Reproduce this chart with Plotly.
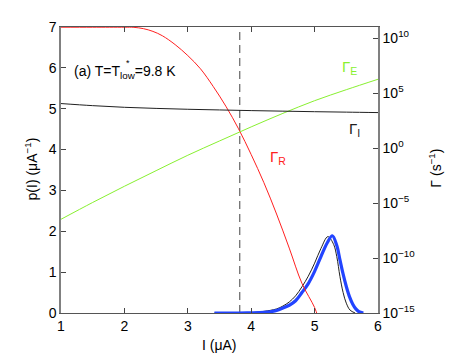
import plotly.graph_objects as go

# rates (right axis, log10 of s^-1)
I_rate = [1.0, 1.5, 2.0, 2.5, 3.0, 3.5, 4.0, 4.5, 5.0, 5.5, 6.0]
logGamma_E = [-6.48, -4.95, -3.48, -2.06, -0.66, 0.64, 1.92, 3.15, 4.3, 5.3, 6.25]
logGamma_I = [4.04, 3.85, 3.7, 3.6, 3.52, 3.46, 3.4, 3.35, 3.3, 3.26, 3.22]

I_R = [1.0, 1.5, 2.0, 2.15, 2.3, 2.45, 2.6, 2.8, 3.0, 3.2, 3.4, 3.6, 3.8, 4.0, 4.2, 4.4, 4.6, 4.8, 5.0, 5.05]
logGamma_R = [10.98, 10.98, 10.98, 10.97, 10.85, 10.6, 10.2, 9.4, 8.4, 7.2, 5.6, 3.8, 1.75, -0.6, -3.15, -6.0, -9.1, -12.3, -14.5, -15.3]

# switching current distributions (left axis)
I_p_blue = [3.42, 3.8, 4.0, 4.2, 4.3, 4.4, 4.5, 4.6, 4.7, 4.8, 4.9, 5.0, 5.1, 5.2, 5.28,
            5.35, 5.4, 5.45, 5.5, 5.55, 5.6, 5.65, 5.7, 5.77]
p_blue = [0, 0, 0.005, 0.015, 0.03, 0.06, 0.12, 0.19, 0.3, 0.5, 0.72, 1.02, 1.38, 1.72, 1.89,
          1.65, 1.3, 0.95, 0.65, 0.4, 0.22, 0.1, 0.03, 0]
I_p_black = [3.42, 4.0, 4.2, 4.4, 4.5, 4.6, 4.7, 4.8, 4.9, 5.0, 5.1, 5.21,
             5.3, 5.35, 5.4, 5.45, 5.5, 5.56, 5.64]
p_black = [0, 0.01, 0.04, 0.1, 0.17, 0.27, 0.42, 0.64, 0.9, 1.22, 1.58, 1.87,
           1.68, 1.38, 0.89, 0.5, 0.24, 0.07, 0]

I_dash = 3.82

right_tickvals = [1e-15, 1e-10, 1e-5, 1e0, 1e5, 1e10]
right_ticktext = ["10<sup>−15</sup>", "10<sup>−10</sup>", "10<sup>−5</sup>",
                  "10<sup>0</sup>", "10<sup>5</sup>", "10<sup>10</sup>"]

fig = go.Figure()
fig.add_trace(go.Scatter(x=I_R, y=[10 ** v for v in logGamma_R], yaxis='y2', mode='lines',
                         line=dict(color='#ff2020', width=1, shape='spline')))
fig.add_trace(go.Scatter(x=I_rate, y=[10 ** v for v in logGamma_E], yaxis='y2', mode='lines',
                         line=dict(color='#88f030', width=1, shape='spline')))
fig.add_trace(go.Scatter(x=I_rate, y=[10 ** v for v in logGamma_I], yaxis='y2', mode='lines',
                         line=dict(color='#202020', width=1, shape='spline')))
fig.add_trace(go.Scatter(x=[I_dash, I_dash], y=[0, 7], mode='lines',
                         line=dict(color='#444444', width=1, dash='8px,5px')))
fig.add_trace(go.Scatter(x=I_p_black, y=p_black, mode='lines',
                         line=dict(color='#202020', width=1, shape='spline')))
fig.add_trace(go.Scatter(x=I_p_blue, y=p_blue, mode='lines',
                         line=dict(color='#2244ff', width=3.2, shape='spline')))

fam = 'Liberation Sans, Arial, sans-serif'
font = dict(family=fam, size=14, color='black')
fig.add_annotation(x=1.17, y=5.89, xref='x', yref='y', xanchor='left', showarrow=False,
                   text="(a) T=T<sub>low</sub>=9.8 K", font=font)
fig.add_annotation(x=2.05, y=6.12, xref='x', yref='y', showarrow=False,
                   text="*", font=dict(family=fam, size=9, color='black'))
fig.add_annotation(x=5.55, y=6.0, xref='x', yref='y', showarrow=False,
                   text="Γ<sub>E</sub>", font=dict(family=fam, size=15, color='#88f030'))
fig.add_annotation(x=5.63, y=4.5, xref='x', yref='y', showarrow=False,
                   text="Γ<sub>I</sub>", font=dict(family=fam, size=15, color='#202020'))
fig.add_annotation(x=4.42, y=3.8, xref='x', yref='y', showarrow=False,
                   text="Γ<sub>R</sub>", font=dict(family=fam, size=15, color='#ff2020'))

# axis titles
fig.add_annotation(x=0.5, y=-0.112, xref='paper', yref='paper', xanchor='center', yanchor='middle',
                   showarrow=False, text="I (μA)", font=font)
fig.add_annotation(x=-0.095, y=0.505, xref='paper', yref='paper', xanchor='center', yanchor='middle',
                   showarrow=False, textangle=-90, text="p(I) (μA<sup>−1</sup>)", font=font)
fig.add_annotation(x=1.18, y=0.505, xref='paper', yref='paper', xanchor='center', yanchor='middle',
                   showarrow=False, textangle=-90, text="Γ (s<sup>−1</sup>)", font=font)

# page body adds an 8px offset, so the figure is 8px smaller and shifted
fig.update_layout(
    width=461, height=345,
    margin=dict(l=53, r=91, t=19, b=40),
    paper_bgcolor='white', plot_bgcolor='white',
    showlegend=False, font=font,
    xaxis=dict(range=[1, 6], tickvals=[1, 2, 3, 4, 5, 6], ticks='inside', ticklen=5,
               showline=True, linecolor='#555555', linewidth=1, mirror='ticks',
               showgrid=False, zeroline=False, automargin=False),
    yaxis=dict(range=[0, 7], tickvals=[0, 1, 2, 3, 4, 5, 6, 7], ticks='inside', ticklen=5,
               showline=True, linecolor='#808080', linewidth=1.5,
               showgrid=False, zeroline=False, automargin=False),
    yaxis2=dict(type='log', range=[-15, 11], overlaying='y', side='right',
                tickvals=right_tickvals, ticktext=right_ticktext,
                ticks='inside', ticklen=5, showline=True, linecolor='#808080', linewidth=1.5,
                showgrid=False, zeroline=False, automargin=False),
)

fig.write_html("out.html")
